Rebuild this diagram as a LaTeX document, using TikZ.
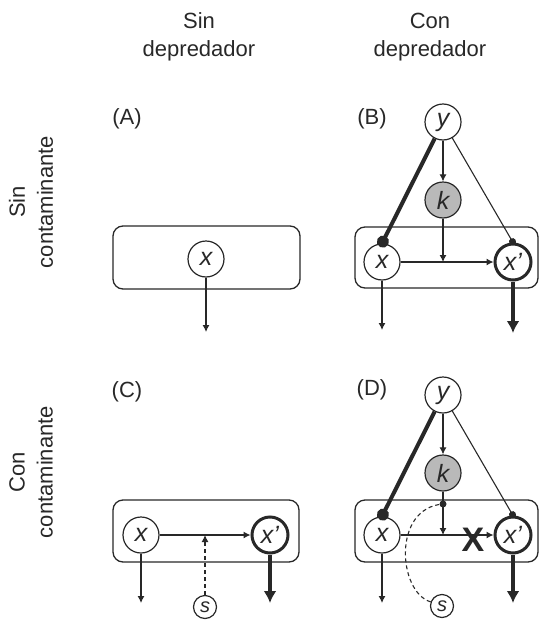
\documentclass[tikz,border=0pt]{standalone}
\usepackage{fontspec}
\setmainfont{Liberation Sans}
\usetikzlibrary{arrows.meta}
\definecolor{dk}{RGB}{40,40,40}
\definecolor{kfill}{RGB}{185,185,185}
\begin{document}
\begin{tikzpicture}[x=1pt,y=-1pt,
  every node/.style={text=dk},
  var/.style={circle, draw=dk, line width=1.2pt, minimum size=36pt, inner sep=0pt, font=\fontsize{25}{26}\selectfont\itshape, fill=white},
  varb/.style={var, line width=3pt},
  svar/.style={var, minimum size=23pt, font=\fontsize{20}{20}\selectfont\itshape},
  kvar/.style={var, fill=kfill},
  panel/.style={draw=dk, line width=1.3pt, rounded corners=10pt, inner sep=0pt},
  thinarr/.style={draw=dk, line width=1.1pt, -{Latex[length=7pt,width=7pt]}},
  thickarr/.style={draw=dk, line width=3.2pt, -{Latex[length=12pt,width=13pt]}},
  bigball/.style={draw=dk, line width=4pt, -{Circle[length=12pt,width=12pt]}, shorten >=-4pt},
  smallball/.style={draw=dk, line width=1.1pt, -{Circle[length=7pt,width=7pt]}, shorten >=-2.5pt},
  dashline/.style={draw=dk, line width=1.1pt, dash pattern=on 4pt off 3pt},
  hdr/.style={align=center, inner sep=0pt, font=\fontsize{22}{28}\selectfont},
  lbl/.style={inner sep=0pt, font=\fontsize{22}{26}\selectfont},
]
\useasboundingbox (0,0) rectangle (540,624);

% headers
\node[hdr] (h1) at (199,37) {Sin\\depredador};
\node[hdr] (h2) at (430,37) {Con\\depredador};
\node[hdr, rotate=90] (v1) at (31,202) {Sin\\contaminante};
\node[hdr, rotate=90] (v2) at (31,472) {Con\\contaminante};

% ---------- Panel A
\node[lbl] (la) at (127,119) {(A)};
\node[panel, minimum width=187pt, minimum height=63pt] (boxA) at (206.5,257.5) {};
\node[var] (xA) at (206,259) {x};
\coordinate (eA) at (206,332);
\draw[thinarr] (xA) -- (eA);

% ---------- Panel B
\node[lbl] (lb) at (372,119) {(B)};
\node[panel, minimum width=183pt, minimum height=61pt] (boxB) at (446.5,257.5) {};
\node[var] (yB) at (443,122) {y};
\node[kvar] (kB) at (443,200) {k};
\node[var] (xB) at (382,262) {x};
\node[varb] (xpB) at (513,262) {x’};
\coordinate (mB) at (443,262);
\coordinate (eB1) at (382,330);
\coordinate (eB2) at (513,333);
\draw[thinarr] (yB) -- (kB);
\draw[thinarr] (kB) -- (mB);
\draw[thinarr] (xB) -- (xpB);
\draw[bigball] (yB) -- (xB.north);
\draw[smallball] (yB) -- (xpB.north);
\draw[thinarr] (xB) -- (eB1);
\draw[thickarr] (xpB) -- (eB2);

% ---------- Panel C
\node[lbl] (lc) at (127,392) {(C)};
\node[panel, minimum width=186pt, minimum height=62pt] (boxC) at (206,531) {};
\node[var] (xC) at (141,535) {x};
\node[varb] (xpC) at (270,535) {x’};
\node[svar] (sC) at (205,607) {s};
\coordinate (mC) at (205,535);
\coordinate (eC1) at (141,603);
\coordinate (eC2) at (270,603);
\draw[thinarr] (xC) -- (xpC);
\draw[thinarr, dash pattern=on 4pt off 3pt] (sC) -- (mC);
\draw[thinarr] (xC) -- (eC1);
\draw[thickarr] (xpC) -- (eC2);

% ---------- Panel D
\node[lbl] (ld) at (372,390) {(D)};
\node[panel, minimum width=183pt, minimum height=62pt] (boxD) at (446.5,531) {};
\node[var] (yD) at (443,395) {y};
\node[kvar] (kD) at (443,473) {k};
\node[var] (xD) at (382,535) {x};
\node[varb] (xpD) at (513,535) {x’};
\node[svar] (sD) at (442,606) {s};
\coordinate (mD) at (443,535);
\coordinate (dD) at (443,504);
\coordinate (eD1) at (382,603);
\coordinate (eD2) at (513,603);
\draw[thinarr] (yD) -- (kD);
\draw[thinarr] (kD) -- (mD);
\draw[thinarr] (xD) -- (xpD);
\draw[bigball] (yD) -- (xD.north);
\draw[smallball] (yD) -- (xpD.north);
\draw[thinarr] (xD) -- (eD1);
\draw[thickarr] (xpD) -- (eD2);
\draw[dashline] (sD.160) .. controls (398,592) and (392,508) .. (dD);
\fill[dk] (dD) circle (3.5pt);
\node[inner sep=0pt, font=\fontsize{34}{34}\selectfont\bfseries] (xm) at (473,540) {X};
\end{tikzpicture}
\end{document}
